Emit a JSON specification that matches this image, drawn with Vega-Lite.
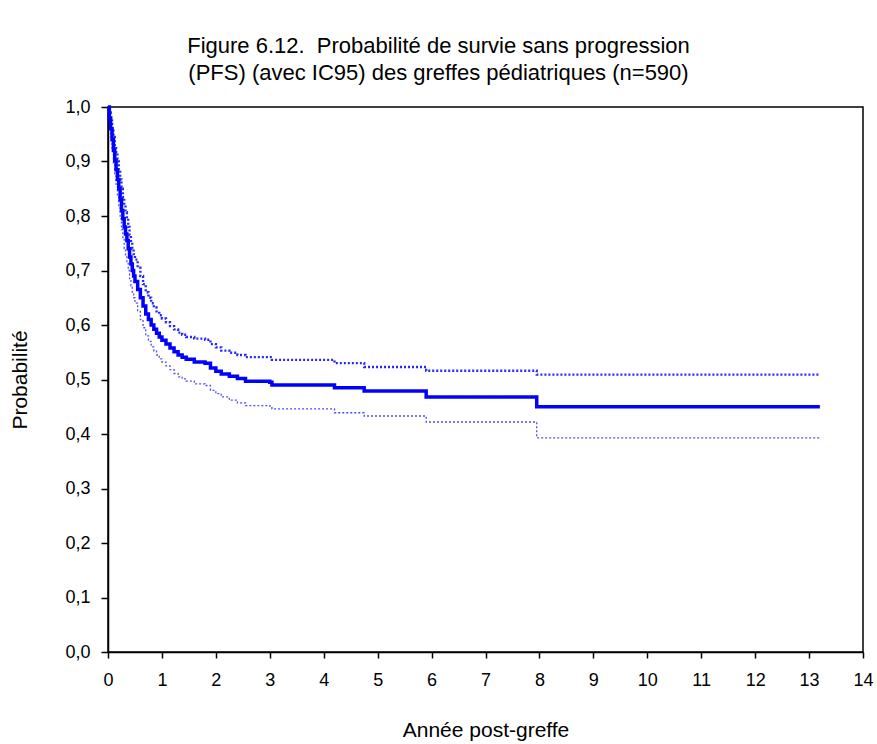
{
  "$schema": "https://vega.github.io/schema/vega-lite/v6.json",
  "autosize": {"type": "none"},
  "width": 755,
  "height": 545,
  "padding": {"left": 108, "top": 107, "right": 14, "bottom": 92},
  "background": "white",
  "config": {
    "font": "Liberation Sans",
    "view": {"stroke": "#000000", "strokeWidth": 1.5}
  },
  "title": {
    "text": ["Figure 6.12.\u00a0 Probabilité de survie sans progression", "\u00a0(PFS) (avec IC95) des greffes pédiatriques (n=590)"],
    "fontSize": 22,
    "fontWeight": "normal",
    "color": "#000000",
    "anchor": "middle",
    "frame": "group",
    "dx": -47,
    "offset": 13,
    "lineHeight": 27
  },
  "datasets": {
    "km": [
      {"t": 0, "s": "PFS", "p": 1.0},
      {"t": 0.025, "s": "PFS", "p": 0.98},
      {"t": 0.05, "s": "PFS", "p": 0.96},
      {"t": 0.075, "s": "PFS", "p": 0.94},
      {"t": 0.1, "s": "PFS", "p": 0.92},
      {"t": 0.125, "s": "PFS", "p": 0.902},
      {"t": 0.15, "s": "PFS", "p": 0.885},
      {"t": 0.175, "s": "PFS", "p": 0.867},
      {"t": 0.2, "s": "PFS", "p": 0.85},
      {"t": 0.225, "s": "PFS", "p": 0.83},
      {"t": 0.25, "s": "PFS", "p": 0.81},
      {"t": 0.275, "s": "PFS", "p": 0.795},
      {"t": 0.3, "s": "PFS", "p": 0.78},
      {"t": 0.325, "s": "PFS", "p": 0.767},
      {"t": 0.35, "s": "PFS", "p": 0.755},
      {"t": 0.375, "s": "PFS", "p": 0.74},
      {"t": 0.4, "s": "PFS", "p": 0.725},
      {"t": 0.425, "s": "PFS", "p": 0.712},
      {"t": 0.45, "s": "PFS", "p": 0.70},
      {"t": 0.475, "s": "PFS", "p": 0.69},
      {"t": 0.5, "s": "PFS", "p": 0.68},
      {"t": 0.55, "s": "PFS", "p": 0.665},
      {"t": 0.6, "s": "PFS", "p": 0.65},
      {"t": 0.65, "s": "PFS", "p": 0.635},
      {"t": 0.7, "s": "PFS", "p": 0.62},
      {"t": 0.75, "s": "PFS", "p": 0.61},
      {"t": 0.8, "s": "PFS", "p": 0.60},
      {"t": 0.85, "s": "PFS", "p": 0.592},
      {"t": 0.9, "s": "PFS", "p": 0.585},
      {"t": 0.95, "s": "PFS", "p": 0.578},
      {"t": 1.0, "s": "PFS", "p": 0.572},
      {"t": 1.075, "s": "PFS", "p": 0.565},
      {"t": 1.15, "s": "PFS", "p": 0.558},
      {"t": 1.225, "s": "PFS", "p": 0.551},
      {"t": 1.3, "s": "PFS", "p": 0.545},
      {"t": 1.375, "s": "PFS", "p": 0.541},
      {"t": 1.45, "s": "PFS", "p": 0.537},
      {"t": 1.6, "s": "PFS", "p": 0.532},
      {"t": 1.8, "s": "PFS", "p": 0.53},
      {"t": 1.9, "s": "PFS", "p": 0.521},
      {"t": 2.0, "s": "PFS", "p": 0.515},
      {"t": 2.1, "s": "PFS", "p": 0.51},
      {"t": 2.25, "s": "PFS", "p": 0.506},
      {"t": 2.4, "s": "PFS", "p": 0.502},
      {"t": 2.55, "s": "PFS", "p": 0.497},
      {"t": 3.0, "s": "PFS", "p": 0.495},
      {"t": 3.04, "s": "PFS", "p": 0.49},
      {"t": 4.2, "s": "PFS", "p": 0.485},
      {"t": 4.75, "s": "PFS", "p": 0.479},
      {"t": 5.9, "s": "PFS", "p": 0.468},
      {"t": 7.95, "s": "PFS", "p": 0.45},
      {"t": 13.2, "s": "PFS", "p": 0.45},

      {"t": 0, "s": "upper", "p": 1.0},
      {"t": 0.025, "s": "upper", "p": 0.99},
      {"t": 0.05, "s": "upper", "p": 0.975},
      {"t": 0.075, "s": "upper", "p": 0.96},
      {"t": 0.1, "s": "upper", "p": 0.945},
      {"t": 0.125, "s": "upper", "p": 0.93},
      {"t": 0.15, "s": "upper", "p": 0.915},
      {"t": 0.175, "s": "upper", "p": 0.90},
      {"t": 0.2, "s": "upper", "p": 0.885},
      {"t": 0.225, "s": "upper", "p": 0.867},
      {"t": 0.25, "s": "upper", "p": 0.85},
      {"t": 0.275, "s": "upper", "p": 0.835},
      {"t": 0.3, "s": "upper", "p": 0.82},
      {"t": 0.325, "s": "upper", "p": 0.807},
      {"t": 0.35, "s": "upper", "p": 0.795},
      {"t": 0.375, "s": "upper", "p": 0.78},
      {"t": 0.4, "s": "upper", "p": 0.765},
      {"t": 0.425, "s": "upper", "p": 0.752},
      {"t": 0.45, "s": "upper", "p": 0.74},
      {"t": 0.475, "s": "upper", "p": 0.73},
      {"t": 0.5, "s": "upper", "p": 0.72},
      {"t": 0.55, "s": "upper", "p": 0.705},
      {"t": 0.6, "s": "upper", "p": 0.69},
      {"t": 0.65, "s": "upper", "p": 0.675},
      {"t": 0.7, "s": "upper", "p": 0.66},
      {"t": 0.75, "s": "upper", "p": 0.65},
      {"t": 0.8, "s": "upper", "p": 0.64},
      {"t": 0.85, "s": "upper", "p": 0.632},
      {"t": 0.9, "s": "upper", "p": 0.625},
      {"t": 0.95, "s": "upper", "p": 0.618},
      {"t": 1.0, "s": "upper", "p": 0.612},
      {"t": 1.075, "s": "upper", "p": 0.605},
      {"t": 1.15, "s": "upper", "p": 0.598},
      {"t": 1.225, "s": "upper", "p": 0.592},
      {"t": 1.3, "s": "upper", "p": 0.586},
      {"t": 1.375, "s": "upper", "p": 0.582},
      {"t": 1.45, "s": "upper", "p": 0.578},
      {"t": 1.6, "s": "upper", "p": 0.575},
      {"t": 1.8, "s": "upper", "p": 0.573},
      {"t": 1.9, "s": "upper", "p": 0.565},
      {"t": 2.0, "s": "upper", "p": 0.559},
      {"t": 2.1, "s": "upper", "p": 0.553},
      {"t": 2.25, "s": "upper", "p": 0.549},
      {"t": 2.4, "s": "upper", "p": 0.545},
      {"t": 2.55, "s": "upper", "p": 0.541},
      {"t": 3.0, "s": "upper", "p": 0.541},
      {"t": 3.04, "s": "upper", "p": 0.536},
      {"t": 4.2, "s": "upper", "p": 0.53},
      {"t": 4.75, "s": "upper", "p": 0.523},
      {"t": 5.9, "s": "upper", "p": 0.516},
      {"t": 7.95, "s": "upper", "p": 0.509},
      {"t": 13.2, "s": "upper", "p": 0.509},

      {"t": 0, "s": "lower", "p": 1.0},
      {"t": 0.025, "s": "lower", "p": 0.97},
      {"t": 0.05, "s": "lower", "p": 0.945},
      {"t": 0.075, "s": "lower", "p": 0.92},
      {"t": 0.1, "s": "lower", "p": 0.895},
      {"t": 0.125, "s": "lower", "p": 0.875},
      {"t": 0.15, "s": "lower", "p": 0.855},
      {"t": 0.175, "s": "lower", "p": 0.835},
      {"t": 0.2, "s": "lower", "p": 0.815},
      {"t": 0.225, "s": "lower", "p": 0.795},
      {"t": 0.25, "s": "lower", "p": 0.775},
      {"t": 0.275, "s": "lower", "p": 0.757},
      {"t": 0.3, "s": "lower", "p": 0.74},
      {"t": 0.325, "s": "lower", "p": 0.727},
      {"t": 0.35, "s": "lower", "p": 0.715},
      {"t": 0.375, "s": "lower", "p": 0.70},
      {"t": 0.4, "s": "lower", "p": 0.685},
      {"t": 0.425, "s": "lower", "p": 0.672},
      {"t": 0.45, "s": "lower", "p": 0.66},
      {"t": 0.475, "s": "lower", "p": 0.65},
      {"t": 0.5, "s": "lower", "p": 0.64},
      {"t": 0.55, "s": "lower", "p": 0.625},
      {"t": 0.6, "s": "lower", "p": 0.61},
      {"t": 0.65, "s": "lower", "p": 0.595},
      {"t": 0.7, "s": "lower", "p": 0.58},
      {"t": 0.75, "s": "lower", "p": 0.57},
      {"t": 0.8, "s": "lower", "p": 0.56},
      {"t": 0.85, "s": "lower", "p": 0.552},
      {"t": 0.9, "s": "lower", "p": 0.545},
      {"t": 0.95, "s": "lower", "p": 0.538},
      {"t": 1.0, "s": "lower", "p": 0.532},
      {"t": 1.075, "s": "lower", "p": 0.525},
      {"t": 1.15, "s": "lower", "p": 0.518},
      {"t": 1.225, "s": "lower", "p": 0.511},
      {"t": 1.3, "s": "lower", "p": 0.505},
      {"t": 1.375, "s": "lower", "p": 0.501},
      {"t": 1.45, "s": "lower", "p": 0.497},
      {"t": 1.6, "s": "lower", "p": 0.492},
      {"t": 1.8, "s": "lower", "p": 0.489},
      {"t": 1.9, "s": "lower", "p": 0.48},
      {"t": 2.0, "s": "lower", "p": 0.474},
      {"t": 2.1, "s": "lower", "p": 0.468},
      {"t": 2.25, "s": "lower", "p": 0.462},
      {"t": 2.4, "s": "lower", "p": 0.457},
      {"t": 2.55, "s": "lower", "p": 0.452},
      {"t": 3.0, "s": "lower", "p": 0.451},
      {"t": 3.04, "s": "lower", "p": 0.446},
      {"t": 4.2, "s": "lower", "p": 0.439},
      {"t": 4.75, "s": "lower", "p": 0.433},
      {"t": 5.9, "s": "lower", "p": 0.422},
      {"t": 7.95, "s": "lower", "p": 0.393},
      {"t": 13.2, "s": "lower", "p": 0.393}
    ]
  },
  "data": {"name": "km"},
  "encoding": {
    "x": {
      "field": "t",
      "type": "quantitative",
      "scale": {"domain": [0, 14], "nice": false, "zero": false},
      "axis": {
        "title": "Année post-greffe",
        "values": [0,1,2,3,4,5,6,7,8,9,10,11,12,13,14],
        "grid": false,
        "domainColor": "#000000",
        "domainWidth": 1.5,
        "tickColor": "#000000",
        "tickWidth": 1.5,
        "tickSize": 6,
        "labelFontSize": 18,
        "labelColor": "#000000",
        "labelPadding": 13,
        "labelFlush": false,
        "titleFontSize": 21,
        "titleFontWeight": "normal",
        "titleColor": "#000000",
        "titleX": 377.5,
        "titleY": 78,
        "titleBaseline": "middle"
      }
    },
    "y": {
      "field": "p",
      "type": "quantitative",
      "scale": {"domain": [0, 1], "nice": false},
      "axis": {
        "title": "Probabilité",
        "values": [0,0.1,0.2,0.3,0.4,0.5,0.6,0.7,0.8,0.9,1.0],
        "labelExpr": "replace(format(datum.value, '.1f'), '.', ',')",
        "grid": false,
        "domainColor": "#000000",
        "domainWidth": 1.5,
        "tickColor": "#000000",
        "tickWidth": 1.5,
        "tickSize": 7,
        "labelFontSize": 18,
        "labelColor": "#000000",
        "labelPadding": 11,
        "labelFlush": false,
        "titleFontSize": 21,
        "titleFontWeight": "normal",
        "titleColor": "#000000",
        "titleAngle": -90,
        "titleX": -88,
        "titleY": 272.5,
        "titleBaseline": "middle",
        "titleAlign": "center"
      }
    },
    "color": {
      "field": "s",
      "type": "nominal",
      "scale": {"domain": ["PFS", "upper", "lower"], "range": ["#0000FF", "#0000FF", "#0000FF"]},
      "legend": null
    },
    "strokeWidth": {
      "field": "s",
      "type": "nominal",
      "scale": {"domain": ["PFS", "upper", "lower"], "range": [3.5, 1.3, 1.3]},
      "legend": null
    },
    "strokeDash": {
      "field": "s",
      "type": "nominal",
      "scale": {"domain": ["PFS", "upper", "lower"], "range": [[1, 0], [2, 2], [2, 2]]},
      "legend": null
    },
    "opacity": {
      "field": "s",
      "type": "nominal",
      "scale": {"domain": ["PFS", "upper", "lower"], "range": [1, 0.7, 0.7]},
      "legend": null
    }
  },
  "mark": {"type": "line", "interpolate": "step-after"}
}
